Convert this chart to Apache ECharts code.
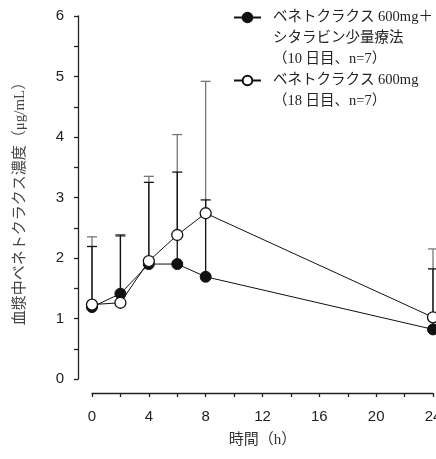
<!DOCTYPE html>
<html>
<head>
<meta charset="utf-8">
<script src="https://cdn.jsdelivr.net/npm/echarts@6/dist/echarts.min.js"></script>
<style>
  html, body { margin: 0; padding: 0; background: #fff; }
  #chart { width: 436px; height: 459px; }
</style>
</head>
<body>
<div id="chart"></div>
<script>
	// 時間（h）
	var times = [0, 2, 4, 6, 8, 24];
	// ベネトクラクス 600mg + シタラビン少量療法（10日目）
	var comboMean = [1.19, 1.41, 1.90, 1.90, 1.69, 0.82];
	var comboUpper = [2.19, 2.38, 3.25, 3.42, 2.96, 1.82];
	// ベネトクラクス 600mg（18日目）
	var monoMean = [1.23, 1.26, 1.95, 2.38, 2.74, 1.02];
	var monoUpper = [2.35, 2.36, 3.35, 4.04, 4.92, 2.15];

	var comboName = 'ベネトクラクス 600mg＋\nシタラビン少量療法\n（10 日目、n=7）';
	var monoName = 'ベネトクラクス 600mg\n（18 日目、n=7）';

	var jpSerif = "'Liberation Serif', 'Noto Sans CJK JP'";
	var sans = "'Liberation Sans', Arial, sans-serif";

	function pts(mean) {
		var arr = [];
		for (var i = 0; i < times.length; i++) {
			arr.push([times[i], mean[i]]);
		}
		return arr;
	}
	function bars(mean, upper) {
		var arr = [];
		for (var i = 0; i < times.length; i++) {
			arr.push([times[i], mean[i], upper[i]]);
		}
		return arr;
	}
	function errorBar(color) {
		return function(params, api) {
			var p0 = api.coord([api.value(0), api.value(1)]);
			var p1 = api.coord([api.value(0), api.value(2)]);
			var st = { stroke: color, lineWidth: 1.3 };
			return {
				type : 'group',
				children : [
					{ type: 'line', shape: { x1: p0[0], y1: p0[1], x2: p1[0], y2: p1[1] }, style: st },
					{ type: 'line', shape: { x1: p1[0] - 5, y1: p1[1], x2: p1[0] + 5, y2: p1[1] }, style: st }
				]
			};
		};
	}

	var myChart = echarts.init(document.getElementById('chart'));
	var option = {
		animation : false,
		backgroundColor : '#fff',
		grid : {
			left : 92,
			right : 3,
			top : 16,
			bottom : 80,
			outerBoundsMode : 'none'
		},
		legend : {
			orient : 'vertical',
			left : 233,
			top : -35,
			padding : 0,
			itemGap : -21,
			itemWidth : 27,
			itemHeight : 12,
			selectedMode : false,
			textStyle : {
				fontFamily : jpSerif,
				fontSize : 14.5,
				lineHeight : 21,
				color : '#222',
				padding : [0, 0, 0, 7]
			},
			// 記号を1行目にそろえるため、先頭に空行を足す
			formatter : function(name) {
				var n = name.split('\n').length;
				return new Array(n).join('\n') + name;
			},
			data : [comboName, monoName]
		},
		xAxis : {
			type : 'value',
			min : 0,
			max : 24,
			interval : 2,
			offset : 14,
			name : '時間（h）',
			nameLocation : 'middle',
			nameGap : 40,
			nameTextStyle : {
				fontFamily : jpSerif,
				fontSize : 15,
				color : '#333'
			},
			axisLine : { onZero: false, lineStyle: { color: '#222', width: 1.3 } },
			axisTick : { length: 4, lineStyle: { color: '#222', width: 1.3 } },
			axisLabel : {
				margin : 16,
				fontFamily : sans,
				fontSize : 15,
				color : '#222',
				formatter : function(v) { return v % 4 === 0 ? String(v) : ''; }
			},
			splitLine : { show: false }
		},
		yAxis : {
			type : 'value',
			min : 0,
			max : 6,
			interval : 0.5,
			offset : 14,
			name : '血漿中ベネトクラクス濃度（μg/mL）',
			nameLocation : 'middle',
			nameGap : 50,
			nameTextStyle : {
				fontFamily : jpSerif,
				fontSize : 15,
				color : '#444',
				padding : [0, 5, 0, 0]
			},
			axisLine : { show: true, onZero: false, lineStyle: { color: '#222', width: 1.3 } },
			axisTick : { show: true, length: 4, lineStyle: { color: '#222', width: 1.3 } },
			axisLabel : {
				margin : 14,
				fontFamily : sans,
				fontSize : 15,
				color : '#222',
				formatter : function(v) { return v % 1 === 0 ? String(v) : ''; }
			},
			splitLine : { show: false }
		},
		series : [
			{
				type : 'custom',
				name : 'sd-mono',
				renderItem : errorBar('#777'),
				data : bars(monoMean, monoUpper),
				z : 1
			},
			{
				type : 'custom',
				name : 'sd-combo',
				renderItem : errorBar('#111'),
				data : bars(comboMean, comboUpper),
				z : 1
			},
			{
				type : 'line',
				name : comboName,
				data : pts(comboMean),
				symbol : 'circle',
				symbolSize : 11,
				lineStyle : { color: '#111', width: 1 },
				itemStyle : { color: '#111', borderColor: '#111', borderWidth: 1 },
				emphasis : { disabled: true },
				z : 3
			},
			{
				type : 'line',
				name : monoName,
				data : pts(monoMean),
				symbol : 'circle',
				symbolSize : 11,
				lineStyle : { color: '#111', width: 1 },
				itemStyle : { color: '#fff', borderColor: '#111', borderWidth: 1.3 },
				emphasis : { disabled: true },
				z : 4
			}
		]
	};
	myChart.setOption(option);
</script>
</body>
</html>
